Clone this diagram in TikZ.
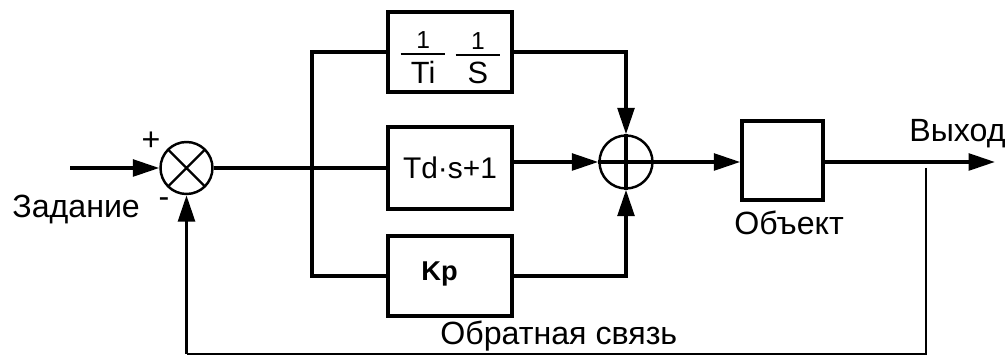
\documentclass[tikz,border=0pt]{standalone}
\usepackage{fontspec}
\setmainfont{Liberation Sans}
\usetikzlibrary{arrows.meta}
\newcommand{\fracpart}[2]{\vbox{\offinterlineskip\hbox to 25.5pt{\hss\fontsize{14}{16}\selectfont #1\hss}\kern2.6pt\hrule height 1.3pt\kern3.4pt\hbox to 25.5pt{\hss #2\hss}}}
\begin{document}
\begin{tikzpicture}[x=0.02cm,y=-0.02cm,
  every node/.style={font=\fontsize{18.3}{21}\selectfont, inner sep=0pt},
  blk/.style={draw, line width=2pt, minimum width=2.48cm, minimum height=1.6cm},
  sumc/.style={draw, circle, line width=1.4pt, minimum size=1.04cm},
  ln/.style={line width=2pt},
  fb/.style={line width=1.4pt},
  arr/.style={-{Triangle[length=15pt,width=9.5pt]}}]
\useasboundingbox (0,0) rectangle (1005,357);
% blocks
\node[blk] (b1) at (450,52) {};
\node[font=\fontsize{17.5}{20}\selectfont] (fr) at (450.5,57.5) {\fracpart{1}{Ti}\hspace{5.7pt}\fracpart{1}{S}};
\node[blk, minimum height=1.64cm, font=\fontsize{17}{20}\selectfont] (b2) at (450,168) {Td·s+1};
\node[blk] (b3) at (450,276) {};
\node[anchor=base west, font=\bfseries\fontsize{15.5}{18}\selectfont] (kp) at (421,281) {Kp};
\node[blk, minimum width=1.62cm, minimum height=1.58cm] (obj) at (782.5,160.5) {};
% summing junctions
\node[sumc] (s1) at (186.5,168) {};
\node[sumc, minimum size=1.06cm] (s2) at (626,162) {};
\draw[fb] (s1.center) +(45:26) -- +(225:26) +(135:26) -- +(315:26);
\draw[ln] (s2.north) -- (s2.south);
% coordinates
\coordinate (in) at (70,168);
\coordinate (bt) at (312,52);
\coordinate (bb) at (312,276);
\coordinate (out) at (995,162);
\coordinate (tap) at (926,168);
\coordinate (fbR) at (926,354);
\coordinate (fbL) at (186.5,354);
% connectors
\draw[ln,arr] (in) -- (s1.west);
\draw[ln] (s1.east) -- (b2.west);
\draw[ln] (b1.west) -- (bt) -- (bb) -- (b3.west);
\draw[ln,arr] (b1.east) -| (s2.north);
\draw[ln,arr] (b2.east |- s2.west) -- (s2.west);
\draw[ln,arr] (b3.east) -| (s2.south);
\draw[ln] (s2.west) -- (s2.east);
\draw[ln,arr] (s2.east) -- (obj.west |- s2.east);
\draw[ln,arr] (obj.east |- s2.east) -- (out);
\draw[fb] (tap) -- (fbR) -- (fbL);
\draw[ln,arr] (fbL) -- (s1.south);
% labels
\node[anchor=base west] (zad) at (12,218) {Задание};
\node (plus) at (151,141) {+};
\node (minus) at (164,203) {-};
\node[anchor=base west] (vyh) at (909,142) {Выход};
\node[anchor=base west] (obt) at (734,235) {Объект};
\node[anchor=base west] (fbl) at (440,345) {Обратная связь};
\end{tikzpicture}
\end{document}
